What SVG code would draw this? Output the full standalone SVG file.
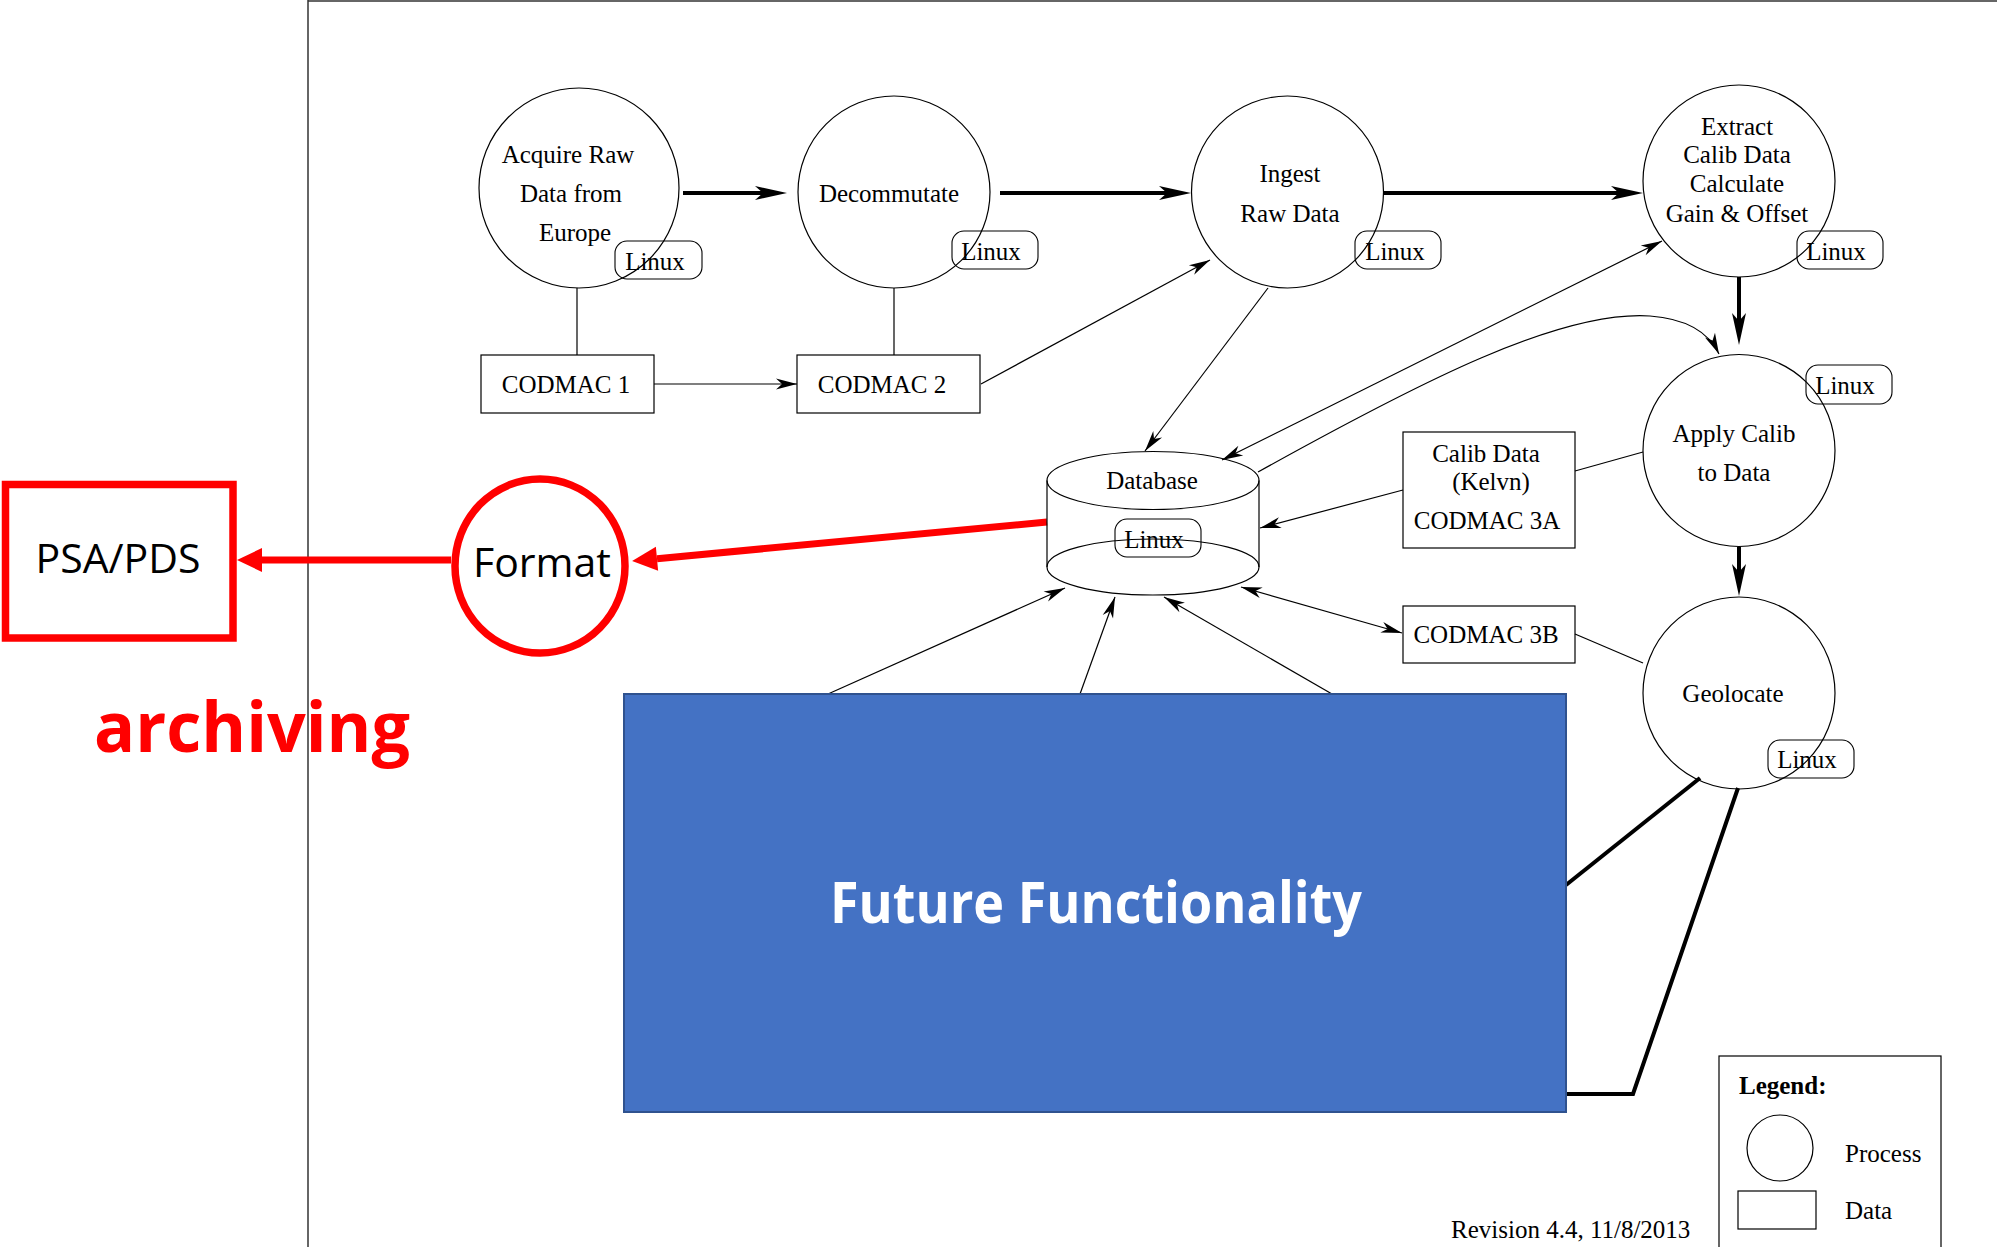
<svg xmlns="http://www.w3.org/2000/svg" width="1997" height="1247" viewBox="0 0 1997 1247">
  <style>
    .t { font-family: "Liberation Serif", "Times New Roman", serif; font-size: 25px; fill: #000; text-anchor: middle; }
    .ts { font-family: "Liberation Serif", "Times New Roman", serif; font-size: 25px; fill: #000; }
    .proc { fill: none; stroke: #000; stroke-width: 1.2; }
    .data { fill: none; stroke: #000; stroke-width: 1.2; }
    .os { fill: none; stroke: #000; stroke-width: 1.1; }
    .thin { fill: none; stroke: #000; stroke-width: 1.2; }
    .thick { fill: none; stroke: #000; stroke-width: 4; }
    .red { fill: none; stroke: #ff0000; stroke-width: 7; }
    .frame { fill: none; stroke: #333; stroke-width: 1.5; }
    .cal { font-family: "Open Sans", "Noto Sans", sans-serif; }
  </style>
  <defs>
    <marker id="ah" markerUnits="userSpaceOnUse" markerWidth="30" markerHeight="30" refX="0" refY="0" orient="auto-start-reverse" overflow="visible">
      <path d="M0,0 L-21,-5.5 L-15,0 L-21,5.5 Z" fill="#000"/>
    </marker>
    <marker id="ahk" markerUnits="userSpaceOnUse" markerWidth="40" markerHeight="40" refX="0" refY="0" orient="auto" overflow="visible">
      <path d="M24,0 L-8,-7 L0,0 L-8,7 Z" fill="#000"/>
    </marker>
    <marker id="ahr" markerUnits="userSpaceOnUse" markerWidth="40" markerHeight="40" refX="0" refY="0" orient="auto" overflow="visible">
      <path d="M25,0 L0,-12 L0,12 Z" fill="#ff0000"/>
    </marker>
  </defs>

  <rect x="0" y="0" width="1997" height="1247" fill="#fff"/>

  <!-- page frame -->
  <g id="frame">
    <line class="frame" x1="308" y1="0" x2="308" y2="1247"/>
    <line class="frame" x1="308" y1="1" x2="1997" y2="1"/>
  </g>

  <!-- connectors -->
  <g id="connectors">
    <!-- main processing chain -->
    <line class="thick" x1="683" y1="193" x2="763" y2="193" marker-end="url(#ahk)"/>
    <line class="thick" x1="1000" y1="193" x2="1167" y2="193" marker-end="url(#ahk)"/>
    <line class="thick" x1="1384" y1="193" x2="1619" y2="193" marker-end="url(#ahk)"/>
    <line class="thick" x1="1739" y1="277" x2="1739" y2="321" marker-end="url(#ahk)"/>
    <line class="thick" x1="1739" y1="547" x2="1739" y2="572" marker-end="url(#ahk)"/>

    <!-- process to product links -->
    <line class="thin" x1="577" y1="288" x2="577" y2="355"/>
    <line class="thin" x1="894" y1="288" x2="894" y2="355"/>
    <line class="thin" x1="654" y1="384" x2="797" y2="384" marker-end="url(#ah)"/>
    <line class="thin" x1="981" y1="384" x2="1210" y2="260" marker-end="url(#ah)"/>
    <line class="thin" x1="1268" y1="288" x2="1145" y2="451" marker-end="url(#ah)"/>
    <line class="thin" x1="1222" y1="460" x2="1662" y2="241" marker-start="url(#ah)" marker-end="url(#ah)"/>
    <path class="thin" d="M1258,472 C1420,382 1560,310 1650,316 C1690,319 1710,335 1719,354" marker-end="url(#ah)"/>
    <line class="thin" x1="1403" y1="490" x2="1260" y2="528" marker-end="url(#ah)"/>
    <line class="thin" x1="1575" y1="471" x2="1643" y2="452"/>
    <line class="thin" x1="1241" y1="587" x2="1402" y2="633" marker-start="url(#ah)" marker-end="url(#ah)"/>
    <line class="thin" x1="1575" y1="634" x2="1643" y2="663"/>

    <!-- future functionality feeds -->
    <line class="thin" x1="828" y1="694" x2="1065" y2="588" marker-end="url(#ah)"/>
    <line class="thin" x1="1080" y1="694" x2="1115" y2="597" marker-end="url(#ah)"/>
    <line class="thin" x1="1332" y1="694" x2="1164" y2="597" marker-end="url(#ah)"/>
    <line class="thick" x1="1700" y1="778" x2="1566" y2="885"/>
    <polyline class="thick" points="1738,788 1633,1094 1566,1094"/>

    <!-- archiving path -->
    <line class="red" x1="1047" y1="522" x2="657" y2="558.7" marker-end="url(#ahr)"/>
    <line class="red" x1="451" y1="560" x2="262" y2="560" marker-end="url(#ahr)"/>
  </g>

  <!-- process nodes -->
  <g id="acquire">
    <circle class="proc" cx="579" cy="188" r="100"/>
    <text class="t" x="568" y="163">Acquire Raw</text>
    <text class="t" x="571" y="202">Data from</text>
    <text class="t" x="575" y="241">Europe</text>
    <rect class="os" x="615" y="241" width="87" height="38" rx="12"/>
    <text class="t" x="655" y="270">Linux</text>
  </g>
  <g id="decommutate">
    <circle class="proc" cx="894" cy="192" r="96"/>
    <text class="t" x="889" y="202">Decommutate</text>
    <rect class="os" x="952" y="231" width="86" height="38" rx="12"/>
    <text class="t" x="991" y="260">Linux</text>
  </g>
  <g id="ingest">
    <circle class="proc" cx="1287.5" cy="192" r="96"/>
    <text class="t" x="1290" y="182">Ingest</text>
    <text class="t" x="1290" y="222">Raw Data</text>
    <rect class="os" x="1355" y="231" width="86" height="38" rx="12"/>
    <text class="t" x="1395" y="260">Linux</text>
  </g>
  <g id="extract">
    <circle class="proc" cx="1739" cy="181" r="96"/>
    <text class="t" x="1737" y="135">Extract</text>
    <text class="t" x="1737" y="163">Calib Data</text>
    <text class="t" x="1737" y="192">Calculate</text>
    <text class="t" x="1737" y="222">Gain &amp; Offset</text>
    <rect class="os" x="1797" y="231" width="86" height="38" rx="12"/>
    <text class="t" x="1836" y="260">Linux</text>
  </g>
  <g id="apply">
    <circle class="proc" cx="1739" cy="450.5" r="96"/>
    <text class="t" x="1734" y="442">Apply Calib</text>
    <text class="t" x="1734" y="481">to Data</text>
    <rect class="os" x="1806" y="365" width="86" height="39" rx="12"/>
    <text class="t" x="1845" y="394">Linux</text>
  </g>
  <g id="geolocate">
    <circle class="proc" cx="1739" cy="693" r="96"/>
    <text class="t" x="1733" y="702">Geolocate</text>
    <rect class="os" x="1768" y="740" width="86" height="38" rx="12"/>
    <text class="t" x="1807" y="768">Linux</text>
  </g>

  <!-- data store -->
  <g id="database">
    <ellipse class="proc" cx="1153" cy="480.5" rx="106" ry="29"/>
    <line class="thin" x1="1047" y1="480.5" x2="1047" y2="567"/>
    <line class="thin" x1="1259" y1="480.5" x2="1259" y2="567"/>
    <ellipse class="proc" cx="1153" cy="567" rx="106" ry="28"/>
    <text class="t" x="1152" y="489">Database</text>
    <rect class="os" x="1115" y="519" width="86" height="38" rx="12"/>
    <text class="t" x="1154" y="548">Linux</text>
  </g>

  <!-- data products -->
  <g id="codmac1">
    <rect class="data" x="481" y="355" width="173" height="58"/>
    <text class="t" x="566" y="393">CODMAC 1</text>
  </g>
  <g id="codmac2">
    <rect class="data" x="797" y="355" width="183" height="58"/>
    <text class="t" x="882" y="393">CODMAC 2</text>
  </g>
  <g id="codmac3a">
    <rect class="data" x="1403" y="432" width="172" height="116"/>
    <text class="t" x="1486" y="462">Calib Data</text>
    <text class="t" x="1491" y="490">(Kelvn)</text>
    <text class="t" x="1487" y="529">CODMAC 3A</text>
  </g>
  <g id="codmac3b">
    <rect class="data" x="1403" y="606" width="172" height="57"/>
    <text class="t" x="1486" y="643">CODMAC 3B</text>
  </g>

  <!-- future functionality block -->
  <g id="future">
    <rect x="624" y="694" width="942" height="418" fill="#4472c4" stroke="#2f528f" stroke-width="2"/>
    <text class="cal" x="830" y="923" font-size="57" font-weight="bold" fill="#fff" textLength="532" lengthAdjust="spacingAndGlyphs">Future Functionality</text>
  </g>

  <!-- archiving -->
  <g id="format">
    <ellipse cx="540" cy="566" rx="85" ry="87" fill="none" stroke="#ff0000" stroke-width="7.5"/>
    <text class="cal" x="542" y="577" font-size="41" fill="#000" text-anchor="middle">Format</text>
  </g>
  <g id="psa-pds">
    <rect x="5.5" y="484.5" width="227.5" height="153.5" fill="none" stroke="#ff0000" stroke-width="7.5"/>
    <text class="cal" x="118" y="573" font-size="41" fill="#000" text-anchor="middle">PSA/PDS</text>
  </g>
  <g id="archiving-label">
    <text class="cal" x="94" y="752" font-size="70" font-weight="bold" fill="#ff0000" textLength="316" lengthAdjust="spacingAndGlyphs">archiving</text>
  </g>

  <!-- legend -->
  <g id="legend">
    <rect class="data" x="1719" y="1056" width="222" height="200"/>
    <text class="ts" x="1739" y="1094" font-weight="bold">Legend:</text>
    <ellipse class="proc" cx="1780" cy="1148" rx="33" ry="33"/>
    <text class="ts" x="1845" y="1162">Process</text>
    <rect class="data" x="1738" y="1191" width="78" height="38"/>
    <text class="ts" x="1845" y="1219">Data</text>
  </g>
  <g id="revision">
    <text class="ts" x="1451" y="1238">Revision 4.4, 11/8/2013</text>
  </g>
</svg>
